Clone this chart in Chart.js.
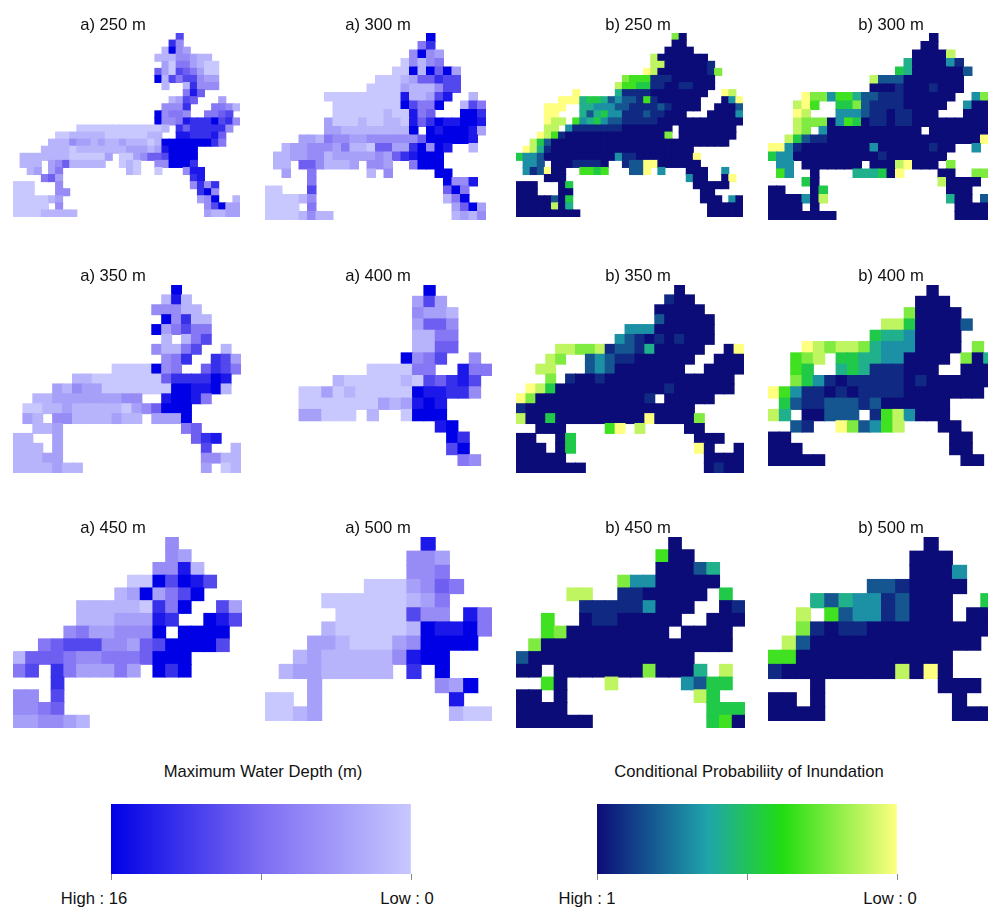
<!DOCTYPE html>
<html>
<head>
<meta charset="utf-8">
<title>Inundation maps</title>
<script src="https://cdn.jsdelivr.net/npm/chart.js@4/dist/chart.umd.min.js"></script>
<style>
  html, body { margin: 0; padding: 0; background: #fff; }
  #page { position: relative; width: 988px; height: 907px; overflow: hidden; }
  #page canvas { position: absolute; }
  .label { position: absolute; transform: translate(-50%, -50%); white-space: nowrap;
           font: 16.6px "Liberation Sans", Arial, sans-serif; color: #111; }
</style>
</head>
<body>
<div id="page"></div>
<script>
// each map is one string per row, '.' = no cell, digits = colour class read off the picture
// depth maps: 0 = low ... 9 = high.  probability maps: 0 = low ... 9 = high
const a250 = [
  ".......................6",
  "......................73",
  ".....................1932",
  "....................11133211",
  ".....................20442100",
  "....................520654200",
  "....................916466322",
  ".....................1..17333",
  "........................485",
  "......................1265...2",
  ".....................3337...4431",
  "....................93443..4456",
  "....................933487779673",
  ".........0000000000001.75777773",
  "......001111100000011..8877785",
  ".....1113221211211101999999974",
  "....1111011111112221289999",
  ".1111111000002.00235569999",
  ".111.23511111..010..339997",
  "..12.24.........10..0...388",
  "....452..................78",
  "000...3..................3737",
  "000...33..................793",
  "0000012...................239..1",
  "00000.3....................36922",
  "000011111..................21122"
];
const a300 = [
  "...................9",
  "..................47",
  ".................3932",
  "................03134",
  "...............00919592",
  ".............0001255766",
  "............00002111366",
  ".......000000000811268..1",
  "........0000000096449..164",
  "........000000100845...997",
  ".......2000100110857988998",
  ".......22111111119.9899982",
  "....221433223333335999998",
  "..12233324110552279398..1",
  ".11223312222232578999",
  ".11.5531112.332..4999",
  "..2..4......1.3.....99",
  ".....4...............9338",
  "00...6...............594",
  "000013...............149",
  "0000.4................2592",
  "00001311..............1213"
];
const a350 = [
  "................9",
  "...............181",
  "..............33311",
  "...............93711",
  "..............924644",
  "...............1.146",
  "..............31146..1",
  "...............347..762",
  "..........0000934..5764",
  "......1100000005777798",
  "....213220000000998891",
  "..11222222233..89984",
  ".00112111110235999",
  ".21.331111211.2229",
  "..112............45",
  "11..2.............578",
  "111.2..............6..1",
  "11122..............3311",
  "1111211............2.01"
];
const a400 = [
  "..............9",
  ".............262",
  ".............3221",
  ".............2553",
  ".............1144",
  ".............1155",
  "............9346..3",
  ".........000044..844",
  "......1000001065786",
  "...0020100000988773",
  "...0000000212898",
  "...22000.1..0999",
  "...............89",
  "................97",
  "................69",
  ".................43"
];
const a450 = [
  "............3",
  "............32",
  "...........3381",
  ".........0096986",
  "........1292469",
  ".....111110749..62",
  ".....11122287..986",
  "....34223339.9999",
  "..456663325699996",
  "15554334445999",
  "46.7422242.979",
  "...7",
  "33.6",
  "3345",
  "223321"
];
const a500 = [
  "...........8",
  "..........332",
  "..........334",
  ".......0002354",
  "....000000124",
  ".....00000633.84",
  "....100000198894",
  "...221000239999",
  "..12111113899",
  ".12211111.7.9",
  "...2........329",
  "00.2.........8",
  "0012.........100"
];
const b250 = [
  "......................29",
  "......................99",
  ".....................9999",
  "...................19999999",
  "...................119999998",
  "..................01999999982",
  "...............2333888999999",
  "..............13344889988999",
  "........0.....5888899999999..01",
  "......00054457677838999999...960",
  "....000..55666778888789999..9997",
  "....00...575466888788999...99996",
  "....011.365467788888999999999999",
  "....11.688888889999999.99999999",
  "...0138999999999999992.99999999",
  "..1479999999999999999999999999",
  ".015899999999999999999999",
  "46679999999999688999999990",
  ".667.99988889..87700999999",
  ".687099..3343...770.6...999..6",
  "....999.................699..90",
  "999...94.................99999",
  "999...99..................99",
  "99999794..................999.69",
  "99999195...................99999",
  "999999999..................99999"
];
const b300 = [
  "...................9",
  "..................99",
  ".................99991",
  "................5999968",
  "...............459999997",
  "............17779999999",
  "............99989998999",
  "....022633577888999999..62",
  "...103..4427888899999..699",
  "...01...666788988999...999",
  "...12229634988988999999999",
  "...12.699999999999.9999999",
  "..147889999999999999999990",
  "0068999999996999999899..6",
  "466999999999989999999",
  ".66.9999999.99910999.2",
  ".36..9....555490....99..22",
  "....49..............19999",
  "99...94..............999",
  "9999691..............599.7",
  "9999.9................9999",
  "99999999..............9999"
];
const b350 = [
  "................9",
  "...............899",
  "..............99999",
  "..............799999",
  "...........666999999",
  "..........6789898999",
  "....112218778599999..90",
  "...12..76788999999..999",
  "..11...7679999999..9999",
  "...2.89989999999999999",
  ".014999999999998999999",
  "02999999999998.99999",
  "899999999999999999",
  "1994999999999099992",
  "..999....30.1....99",
  "99..94............999",
  "999.94............09..9",
  "99999..............9999",
  "9999999............9899"
];
const b400 = [
  "..............9",
  ".............999",
  "............29999",
  "..........11499997",
  ".........45569999",
  "...01211256669999.2",
  "..321.4455669999.295",
  "..34..545888999..999",
  "..246898888898999999",
  "0368898988889999999",
  ".478877787999999",
  "15.99777.8316999",
  "..78..027631...99",
  "99..............99",
  "999.............99",
  "99999............99"
];
const b450 = [
  "............9",
  "...........399",
  "...........99975",
  "........26699999",
  "....11..8899999.4",
  ".....888886999..98",
  "..3..98899999..999",
  "..3299999999.9999",
  ".2999999999999999",
  "79999999999999",
  "99.999999929995.1",
  "..39...1.....6744",
  "99.9..........14",
  "9999...........444",
  "999999.........439"
];
const b500 = [
  "...........9",
  "..........999",
  "..........9996",
  ".......7789999",
  "...5756687999..4",
  "..1.376687999.99",
  "..28988999999999",
  ".17999999999999",
  "3399999999999",
  "8999999991909",
  "...9........999",
  "99.9.........9",
  "9999.........999"
];

const panelTitles = ["a) 250 m", "a) 300 m", "b) 250 m", "b) 300 m",
                     "a) 350 m", "a) 400 m", "b) 350 m", "b) 400 m",
                     "a) 450 m", "a) 500 m", "b) 450 m", "b) 500 m"];
const panelGrids = [a250, a300, b250, b300, a350, a400, b350, b400, a450, a500, b450, b500];
const panelMetres = [250, 300, 250, 300, 350, 400, 350, 400, 450, 500, 450, 500];
const depthClasses = [0, 0.11, 0.22, 0.33, 0.44, 0.56, 0.67, 0.78, 0.89, 1];
const probClasses = [0, 0.11, 0.22, 0.33, 0.47, 0.58, 0.68, 0.82, 0.93, 1];
const depthTicks = [16, 8, 0];
const probTicks = [1, 0.5, 0];
const depthTickLabels = ["High : 16", "Low : 0"];
const probTickLabels = ["High : 1", "Low : 0"];

// layout, all in page pixels
const PX_PER_METRE = 0.02833;
const panelLeft = [12.7, 264.7, 516, 768];
const panelTop = [33.3, 284.8, 537];
const titleX = [113, 378, 638, 891];
const titleY = [24.5, 275.5, 527.5];

const page = document.getElementById('page');

const depthStops = [[0, [200, 200, 255]], [0.5, [125, 108, 242]], [1, [0, 0, 230]]];
const probStops = [[0, [255, 255, 128]], [0.38, [34, 221, 17]], [0.63, [31, 165, 171]], [1, [12, 12, 120]]];

function rampColor(stops, t) {
  let i = 0;
  while (i < stops.length - 2 && t > stops[i + 1][0]) i++;
  const [t0, c0] = stops[i];
  const [t1, c1] = stops[i + 1];
  const f = (t - t0) / (t1 - t0);
  return 'rgb(' + c0.map((v, k) => Math.round(v + (c1[k] - v) * f)).join(',') + ')';
}

function addCanvas(left, top, width, height) {
  const c = document.createElement('canvas');
  c.width = width;
  c.height = height;
  c.style.left = left + 'px';
  c.style.top = top + 'px';
  c.style.width = width + 'px';
  c.style.height = height + 'px';
  page.appendChild(c);
  return c;
}

function addLabel(text, x, y) {
  const d = document.createElement('div');
  d.className = 'label';
  d.textContent = text;
  d.style.left = x + 'px';
  d.style.top = y + 'px';
  page.appendChild(d);
}

function drawPanel(index) {
  const grid = panelGrids[index];
  const col = index % 4;
  const row = Math.floor(index / 4);
  const stops = col < 2 ? depthStops : probStops;
  const classes = col < 2 ? depthClasses : probClasses;
  const cell = panelMetres[index] * PX_PER_METRE;
  const cols = Math.max(...grid.map(r => r.length));
  const rows = grid.length;

  const points = [];
  const colors = [];
  grid.forEach((line, y) => {
    [...line].forEach((ch, x) => {
      if (ch === '.') return;
      points.push({ x: x + 0.5, y: y + 0.5 });
      colors.push(rampColor(stops, classes[Number(ch)]));
    });
  });

  const canvas = addCanvas(panelLeft[col], panelTop[row], Math.round(cols * cell), Math.round(rows * cell));
  new Chart(canvas, {
    type: 'scatter',
    data: {
      datasets: [{
        data: points,
        backgroundColor: colors,
        borderWidth: 0,
        pointStyle: 'rect',
        clip: false,
        pointRadius: ctx => {
          const sx = ctx.chart.scales.x;
          const w = sx.getPixelForValue(1) - sx.getPixelForValue(0);
          return (w + 1) / 2 / Math.SQRT1_2;
        }
      }]
    },
    options: {
      responsive: false,
      animation: false,
      layout: { padding: 0 },
      plugins: { legend: { display: false }, tooltip: { enabled: false } },
      scales: {
        x: { type: 'linear', display: false, min: 0, max: cols },
        y: { type: 'linear', display: false, min: 0, max: rows, reverse: true }
      }
    }
  });
  addLabel(panelTitles[index], titleX[col], titleY[row]);
}

panelGrids.forEach((g, i) => drawPanel(i));

function drawColorbar(left, ticks, stops, tickLabels, labelX) {
  const high = ticks[0];
  const canvas = addCanvas(left - 12, 804, 324, 76);
  new Chart(canvas, {
    type: 'bar',
    data: {
      labels: [''],
      datasets: [{
        data: [[0, high]],
        barPercentage: 1,
        categoryPercentage: 1,
        backgroundColor: ctx => {
          const area = ctx.chart.chartArea;
          if (!area) return '#000';
          const g = ctx.chart.ctx.createLinearGradient(area.left, 0, area.right, 0);
          stops.forEach(s => g.addColorStop(1 - s[0], rampColor(stops, s[0])));
          return g;
        }
      }]
    },
    options: {
      indexAxis: 'y',
      responsive: false,
      animation: false,
      layout: { padding: { left: 12, right: 12 } },
      plugins: { legend: { display: false }, tooltip: { enabled: false } },
      scales: {
        x: {
          type: 'linear',
          min: 0,
          max: high,
          reverse: true,
          border: { display: false },
          afterBuildTicks: axis => { axis.ticks = ticks.map(v => ({ value: v })); },
          ticks: { display: false },
          grid: { drawOnChartArea: false, color: '#888', tickLength: 6, tickWidth: 1 }
        },
        y: { display: false }
      }
    }
  });
  addLabel(tickLabels[0], labelX[0], 899);
  addLabel(tickLabels[1], labelX[1], 899);
}

drawColorbar(111, depthTicks, depthStops, depthTickLabels, [94, 407]);
drawColorbar(597, probTicks, probStops, probTickLabels, [587, 890]);
addLabel("Maximum Water Depth (m)", 263, 771.5);
addLabel("Conditional Probabiliity of Inundation", 749, 771.5);
</script>
</body>
</html>
